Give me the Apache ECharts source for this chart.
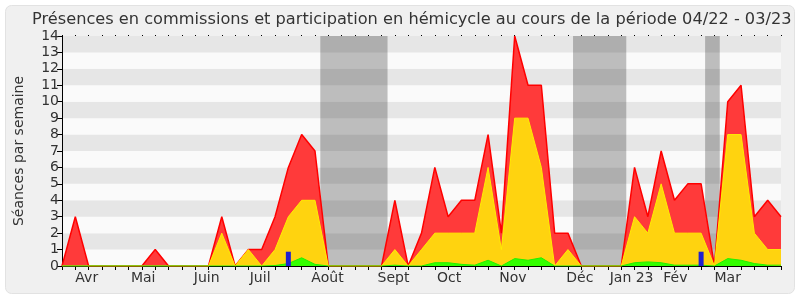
<!DOCTYPE html>
<html><head><meta charset="utf-8">
<script src="https://cdn.jsdelivr.net/npm/echarts@6/dist/echarts.min.js"></script>
<style>html,body{margin:0;padding:0;background:#fff}#c{width:800px;height:300px}</style>
</head><body><div id="c"></div>
<script>
// weekly index 0..54 (04/22 - 03/23)
const presences = [0,3,0,0,0,0,0,1,0,0,0,0,3,0,1,1,3,6,8,7,0,0,0,0,0,4,0,2,6,3,4,4,8,2,14,11,11,2,2,0,0,0,0,6,3,7,4,5,5,0,10,11,3,4,3];
const commissions = [0,0,0,0,0,0,0,0,0,0,0,0,2,0,1,0,1,3,4,4,0,0,0,0,0,1,0,1,2,2,2,2,6,1,9,9,6,0,1,0,0,0,0,3,2,5,2,2,2,0,8,8,2,1,1];
const interventions = [0,0,0,0,0,0,0,0,0,0,0,0,0,0,0,0,0.03,0.15,0.5,0.1,0,0,0,0,0,0.05,0,0,0.2,0.2,0.1,0.05,0.35,0,0.45,0.35,0.5,0,0,0,0,0,0,0.2,0.25,0.2,0.05,0.05,0.05,0,0.45,0.35,0.15,0.05,0.05];
const questions = [[17,0.87],[48,0.87]];
const holidays = [[19.4,24.45],[38.38,42.38],[48.3,49.4]];
const monthLabels = ['Avr','Mai','Juin','Juil','Août','Sept','Oct','Nov','Déc','Jan 23','Fév','Mar'];
const monthPos = [1.86,6.1,10.87,14.88,19.94,24.9,29.08,33.87,38.89,42.78,46.07,50.0];

const pairs = a => a.map((v,i)=>[i,v]);
const FONT = 'DejaVu Sans';
const chart = echarts.init(document.getElementById('c'), null, {renderer:'canvas'});
chart.setOption({
  animation:false,
  backgroundColor:'#ffffff',
  graphic:[{type:'rect', z:-10, shape:{x:5.5,y:5.5,width:789,height:288,r:6}, style:{fill:'#f0f0f0', stroke:'#e2e2e2', lineWidth:1}}],
  title:{text:'Présences en commissions et participation en hémicycle au cours de la période 04/22 - 03/23',
    left:27, top:7, textStyle:{fontFamily:FONT, fontSize:16.2, fontWeight:'normal', color:'#333'}},
  grid:{left:62, right:19, top:36, bottom:34, show:true, backgroundColor:'#fafafa', borderWidth:0},
  xAxis:[
    {type:'value', min:0, max:54, interval:1, position:'bottom',
     axisLine:{show:true, lineStyle:{color:'#000', width:1}},
     axisTick:{show:true, length:4, lineStyle:{color:'#000'}},
     axisLabel:{show:false}, splitLine:{show:false}},
    {type:'value', min:0, max:54, position:'bottom',
     axisLine:{show:false}, axisTick:{show:false}, splitLine:{show:false},
     axisLabel:{show:true, customValues:monthPos, margin:5,
       formatter:(v)=>{const k=monthPos.indexOf(v); return k>=0?monthLabels[k]:'';},
       fontFamily:FONT, fontSize:14, color:'#333'}},
    {type:'value', min:0, max:54, interval:1, position:'top',
     axisLine:{show:false}, axisTick:{show:true, length:1, lineStyle:{color:'#000'}},
     axisLabel:{show:false}, splitLine:{show:false}}
  ],
  yAxis:{type:'value', min:0, max:14, interval:1,
    name:'Séances par semaine', nameLocation:'middle', nameGap:36,
    nameTextStyle:{fontFamily:FONT, fontSize:14, color:'#333'},
    axisLine:{show:true, lineStyle:{color:'#000'}},
    axisTick:{show:true, length:5, lineStyle:{color:'#000'}},
    axisLabel:{fontFamily:FONT, fontSize:14, color:'#333', margin:3},
    splitLine:{show:false},
    splitArea:{show:true, areaStyle:{color:['#fafafa','#e6e6e6']}}},
  series:[
    {type:'line', data:[], z:1, silent:true,
     markArea:{silent:true, itemStyle:{color:'rgba(0,0,0,0.245)'},
       data:holidays.map(h=>[{xAxis:h[0]},{xAxis:h[1]}])}},
    {type:'line', name:'présences', data:pairs(presences), z:3, symbol:'none',
     lineStyle:{color:'#ff0000', width:1.5}, areaStyle:{color:'#ff3a3a', opacity:1}},
    {type:'line', name:'commissions', data:pairs(commissions), z:4, symbol:'none',
     lineStyle:{color:'#ffee00', width:1}, areaStyle:{color:'#ffd30f', opacity:1}},
    {type:'line', name:'interventions', data:pairs(interventions), z:5, symbol:'none',
     lineStyle:{color:'#22ee00', width:1}, areaStyle:{color:'#33ff00', opacity:1}},
    {type:'bar', name:'questions', data:questions, z:6, barWidth:5,
     itemStyle:{color:'#2020d0'}}
  ]
});
</script></body></html>
